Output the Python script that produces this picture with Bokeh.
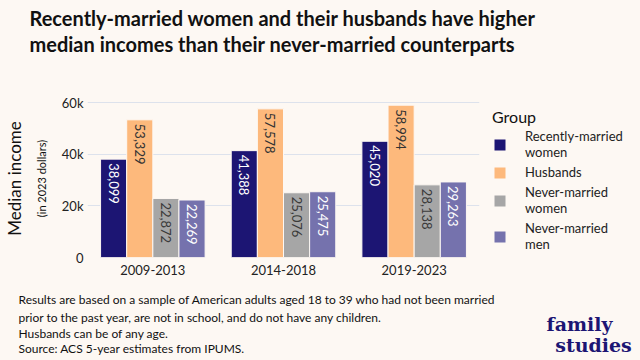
import math
from bokeh.plotting import figure
from bokeh.models import (ColumnDataSource, FactorRange, Range1d, FixedTicker, Label, Title,
                          Legend, LegendItem, LinearAxis, GlobalInlineStyleSheet)
from bokeh.transform import dodge
from bokeh.core.properties import value
from bokeh.embed import file_html
from bokeh.resources import INLINE

# ---- data ----
periods = ["2009-2013", "2014-2018", "2019-2023"]
groups = ["Recently-married\nwomen", "Husbands", "Never-married\nwomen", "Never-married\nmen"]
recently_married_women = [38099, 41388, 45020]
husbands = [53329, 57578, 58994]
never_married_women = [22872, 25076, 28138]
never_married_men = [22269, 25475, 29263]
y_ticks = [0, 20000, 40000, 60000]
y_tick_labels = ["0", "20k", "40k", "60k"]
title_lines = ["Recently-married women and their husbands have higher",
               "median incomes than their never-married counterparts"]
foot_lines = ["Results are based on a sample of American adults aged 18 to 39 who had not been married",
              "prior to the past year, are not in school, and do not have any children.",
              "Husbands can be of any age.",
              "Source: ACS 5-year estimates from IPUMS."]
logo_lines = ["family", "studies"]

series = [recently_married_women, husbands, never_married_women, never_married_men]
colors = ["#1c1573", "#fdb97c", "#a6a6a6", "#7572ad"]
label_colors = ["#ffffff", "#333333", "#3a3a3a", "#ffffff"]
offsets = [-0.3, -0.1, 0.1, 0.3]

BG = "#fdf8f3"
FONT = "Lato"
INK = "#111111"
NAVY = "#1c1573"

p = figure(width=640, height=360, frame_width=392, frame_height=158,
           output_backend="svg", toolbar_location=None, title=None,
           x_range=FactorRange(factors=periods, range_padding=0),
           y_range=Range1d(0, 61200),
           min_border_left=85, min_border_right=163, min_border_top=99, min_border_bottom=103,
           background_fill_color=BG, border_fill_color=BG, outline_line_color=None)
p.stylesheets = [GlobalInlineStyleSheet(css="body{background-color:%s;}" % BG)]

items = []
for vals, grp, col, lcol, off in zip(series, groups, colors, label_colors, offsets):
    src = ColumnDataSource(dict(period=periods, v=vals, lab=[f"{v:,}" for v in vals]))
    r = p.vbar(x=dodge("period", off, range=p.x_range), top="v", width=0.2, source=src,
               fill_color=col, line_color=BG, line_width=1)
    p.text(x=dodge("period", off, range=p.x_range), y="v", text="lab", source=src,
           angle=-math.pi / 2, text_align="left", text_baseline="middle",
           text_font=value(FONT), text_font_size="13px", text_color=lcol, y_offset=4)
    items.append(LegendItem(label=grp, renderers=[r]))

# ---- axes ----
for ax in (p.xaxis[0], p.yaxis[0]):
    ax.axis_line_color = None
    ax.major_tick_line_color = None
    ax.minor_tick_line_color = None
    ax.major_tick_out = 0
    ax.major_tick_in = 0
    ax.major_label_text_font = FONT
    ax.major_label_text_font_size = "13px"
    ax.major_label_text_color = "#222222"
p.xaxis.major_label_standoff = 7
p.yaxis.major_label_standoff = 4
p.yaxis.ticker = FixedTicker(ticks=y_ticks)
p.yaxis.major_label_overrides = {t: s for t, s in zip(y_ticks, y_tick_labels)}
p.yaxis.axis_label = "(in 2023 dollars)"
p.yaxis.axis_label_text_font = FONT
p.yaxis.axis_label_text_font_size = "11px"
p.yaxis.axis_label_text_font_style = "normal"
p.yaxis.axis_label_text_color = INK
p.yaxis.axis_label_standoff = 11

outer = LinearAxis(ticker=FixedTicker(ticks=[]), axis_line_color=None,
                   major_tick_out=0, major_tick_in=0, minor_tick_out=0, minor_tick_in=0,
                   major_label_standoff=0, axis_label="Median income",
                   axis_label_text_font=FONT, axis_label_text_font_size="17px",
                   axis_label_text_font_style="normal", axis_label_text_color=INK,
                   axis_label_standoff=7)
p.add_layout(outer, "left")

p.xgrid.grid_line_color = None
p.ygrid.grid_line_color = "#dde2ec"
p.ygrid.grid_line_width = 1

# ---- legend ----
legend = Legend(items=items, location=(13, 5), orientation="vertical",
                title="Group", title_text_font=FONT, title_text_font_size="16px",
                title_text_font_style="normal", title_text_color=INK, title_standoff=2,
                glyph_width=15, glyph_height=15, label_standoff=18, spacing=4,
                padding=0, margin=0, background_fill_alpha=0, border_line_alpha=0,
                label_text_font=FONT, label_text_font_size="13px",
                label_text_color="#222222", label_text_line_height=1.38)
p.add_layout(legend, "right")

# ---- above: logo labels (drawn at the bottom right), then the two title lines ----
p.add_layout(Label(x=492, y=-224, x_units="screen", y_units="screen", text=logo_lines[0],
                   text_font="DejaVu Serif", text_font_size="19px", text_font_style="bold",
                   text_align="center", text_baseline="alphabetic", text_color=NAVY), "above")
p.add_layout(Label(x=506, y=-267, x_units="screen", y_units="screen", text=logo_lines[1],
                   text_font="DejaVu Serif", text_font_size="19px", text_font_style="bold",
                   text_align="center", text_baseline="alphabetic", text_color=NAVY), "above")
for t in reversed(title_lines):
    p.add_layout(Title(text=t, text_font=FONT, text_font_size="20px", text_font_style="bold",
                       text_color=INK, align="left", offset=-58, standoff=0), "above")

# ---- below: footer lines ----
for t, yy in zip(foot_lines, [-7, -10, -11, -11]):
    p.add_layout(Label(x=-69, y=yy, x_units="screen", y_units="screen", text=t,
                       text_font=FONT, text_font_size="12px", text_baseline="middle",
                       text_color=INK), "below")

open("out.html", "w").write(file_html(p, INLINE))
